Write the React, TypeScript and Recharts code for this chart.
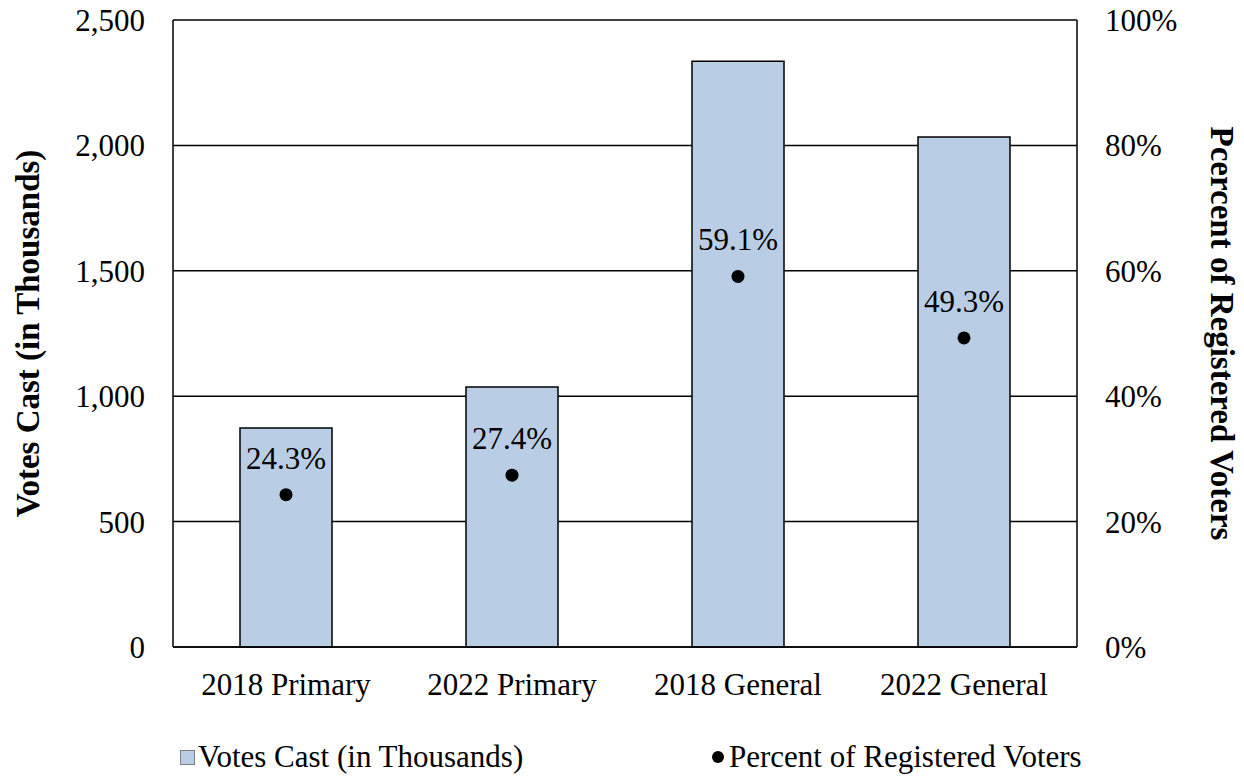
import {
  ComposedChart,
  Bar,
  Line,
  XAxis,
  YAxis,
  CartesianGrid,
  Legend,
  LabelList,
} from "recharts";

const categories = ["2018 Primary", "2022 Primary", "2018 General", "2022 General"];
const votesCast = [873, 1037, 2336, 2033]; // thousands
const percentRegistered = [24.3, 27.4, 59.1, 49.3];
const voteTicks = [0, 500, 1000, 1500, 2000, 2500];
const percentTicks = [0, 20, 40, 60, 80, 100];

const BAR_NAME = "Votes Cast (in Thousands)";
const DOT_NAME = "Percent of Registered Voters";

const data = categories.map((name, i) => ({
  name,
  votes: votesCast[i],
  pct: percentRegistered[i],
}));

const FONT = "'Liberation Serif', 'Times New Roman', serif";
const BAR_FILL = "#B9CDE5";

const LeftTitle = ({ viewBox }: any) => {
  const x = viewBox.x + 28;
  const y = viewBox.y + viewBox.height / 2;
  return (
    <text
      x={x}
      y={y}
      transform={`rotate(-90 ${x} ${y})`}
      textAnchor="middle"
      dominantBaseline="central"
      fontSize={33}
      fontWeight="bold"
      fill="#000"
    >
      {BAR_NAME}
    </text>
  );
};

const RightTitle = ({ viewBox }: any) => {
  const x = viewBox.x + 145;
  const y = viewBox.y + viewBox.height / 2;
  return (
    <text
      x={x}
      y={y}
      transform={`rotate(90 ${x} ${y})`}
      textAnchor="middle"
      dominantBaseline="central"
      fontSize={33}
      fontWeight="bold"
      fill="#000"
    >
      Pcercent of Registered Voters
    </text>
  );
};

const LegendBox = () => (
  <div style={{ position: "relative", height: 40, fontSize: 31, color: "#000", fontFamily: FONT }}>
    <div style={{ position: "absolute", left: 180, top: 0, height: 40, display: "flex", alignItems: "center" }}>
      <span
        style={{
          display: "inline-block",
          width: 13,
          height: 13,
          background: BAR_FILL,
          border: "1px solid #7f7f7f",
          marginRight: 3,
        }}
      />
      <span>{BAR_NAME}</span>
    </div>
    <div style={{ position: "absolute", left: 712, top: 0, height: 40, display: "flex", alignItems: "center" }}>
      <span
        style={{
          display: "inline-block",
          width: 12,
          height: 12,
          borderRadius: 6,
          background: "#000",
          marginRight: 5,
        }}
      />
      <span>{DOT_NAME}</span>
    </div>
  </div>
);

export default function App() {
  return (
    <div style={{ position: "absolute", left: 0, top: 0, width: 1244, height: 778, background: "#fff", fontFamily: FONT }}>
      <ComposedChart width={1244} height={778} data={data} margin={{ top: 20, right: 0, bottom: 1, left: 0 }}>
        <CartesianGrid yAxisId="left" vertical={false} stroke="#000" strokeWidth={1.5} />
        <XAxis
          dataKey="name"
          height={90}
          tickLine={false}
          tickSize={0}
          tickMargin={26}
          axisLine={{ stroke: "#000", strokeWidth: 1.5 }}
          tick={{ fontSize: 31, fill: "#000" }}
        />
        <YAxis
          yAxisId="left"
          width={173}
          domain={[0, 2500]}
          ticks={voteTicks}
          tickFormatter={(v: number) => v.toLocaleString("en-US")}
          tickLine={false}
          tickSize={0}
          tickMargin={28}
          axisLine={{ stroke: "#000", strokeWidth: 1.5 }}
          tick={{ fontSize: 31, fill: "#000" }}
          label={<LeftTitle />}
        />
        <YAxis
          yAxisId="right"
          orientation="right"
          width={167}
          domain={[0, 100]}
          ticks={percentTicks}
          tickFormatter={(v: number) => `${v}%`}
          tickLine={false}
          tickSize={0}
          tickMargin={28}
          axisLine={{ stroke: "#000", strokeWidth: 1.5 }}
          tick={{ fontSize: 31, fill: "#000" }}
          label={<RightTitle />}
        />
        <Legend verticalAlign="bottom" content={<LegendBox />} wrapperStyle={{ bottom: 1 }} />
        <Bar
          yAxisId="left"
          dataKey="votes"
          name={BAR_NAME}
          fill={BAR_FILL}
          stroke="#000"
          strokeWidth={1.5}
          barSize={92}
          isAnimationActive={false}
        />
        <Line
          yAxisId="right"
          dataKey="pct"
          name={DOT_NAME}
          stroke="none"
          dot={{ r: 6.5, fill: "#000", stroke: "none" }}
          activeDot={false}
          isAnimationActive={false}
        >
          <LabelList
            dataKey="pct"
            position="top"
            offset={26}
            formatter={(v: any) => `${Number(v).toFixed(1)}%`}
            style={{ fontSize: 31, fill: "#000" }}
          />
        </Line>
      </ComposedChart>
    </div>
  );
}
